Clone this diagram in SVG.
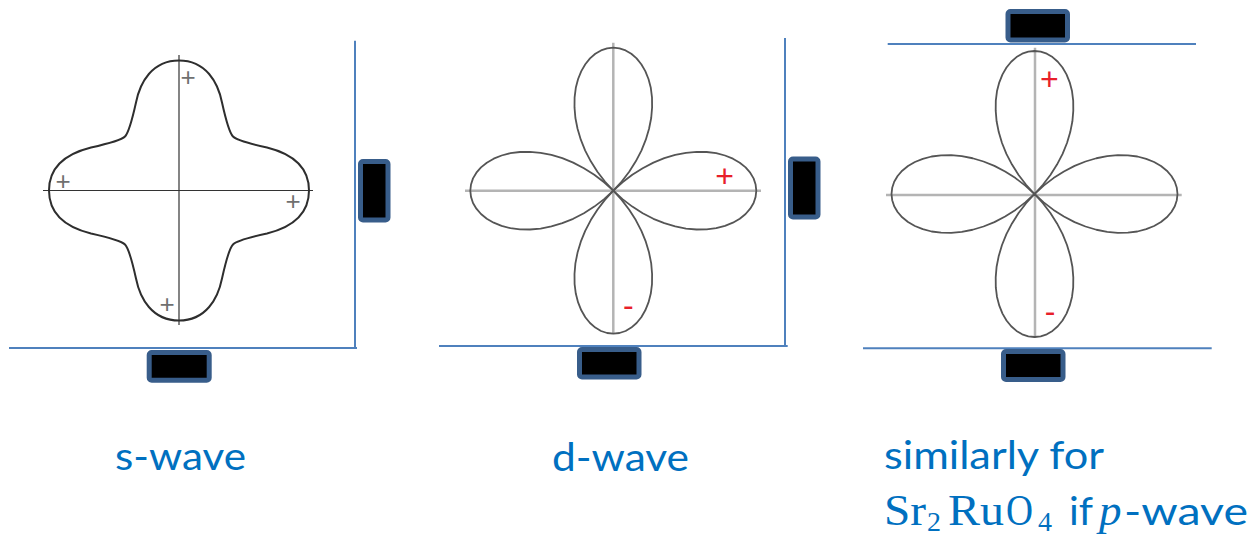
<svg xmlns="http://www.w3.org/2000/svg" width="1251" height="535" viewBox="0 0 1251 535">
<style>
.wall{stroke:#4f81bd;stroke-width:2;fill:none}
.box{fill:#000;stroke:#385d8a;stroke-width:5}
.axisS{stroke:#333;stroke-width:1.2}
.axisD{stroke:#b4b4b4;stroke-width:2.5}
.curve{fill:none;stroke:#2e2e2e;stroke-width:2;stroke-linejoin:round}
.lobe{fill:none;stroke:#555;stroke-width:1.8;stroke-linejoin:round}
.gp{font-family:"Liberation Sans",Arial,sans-serif;font-size:26px;fill:#707070;text-anchor:middle}
.rp{font-family:"Liberation Sans",Arial,sans-serif;font-size:32px;fill:#e8202a;text-anchor:middle}
.lbl{font-family:Lato,"Open Sans",sans-serif;font-size:39px;fill:#0070c0}
.math{font-family:"Liberation Serif","Times New Roman",serif;font-size:45px;fill:#0070c0}
.sub{font-size:28px}
</style>
<defs>
<path id="lobe" d="M0,0 L9.2,8.4 19,15.9 29.4,22.5 40.1,28.1 51,32.5 61.9,35.75 72.7,37.9 83.3,38.8 93.4,38.7 102.9,37.5 111.7,35.2 119.6,32 126.5,28 132.3,23.3 136.9,18 140.3,12.3 142.3,6.2 143,0 142.3,-6.2 140.3,-12.3 136.9,-18 132.3,-23.3 126.5,-28 119.6,-32 111.7,-35.2 102.9,-37.5 93.4,-38.7 83.3,-38.8 72.7,-37.9 61.9,-35.75 51,-32.5 40.1,-28.1 29.4,-22.5 19,-15.9 9.2,-8.4 Z"/>
</defs>

<g id="s-wave">
<line class="axisS" x1="179" y1="55" x2="179" y2="325"/>
<line class="axisS" x1="43" y1="190.5" x2="313" y2="190.5"/>
<path class="curve" transform="translate(179,190.5)" d="M0,-130 C27,-130 39,-108 43,-88 C47,-70 50,-58 54,-54 C58,-50 70,-47 88,-43 C108,-38 130,-27 130,0 C130,27 108,38 88,43 C70,47 58,50 54,54 C50,58 47,70 43,88 C39,108 27,130 0,130 C-27,130 -39,108 -43,88 C-47,70 -50,58 -54,54 C-58,50 -70,47 -88,43 C-108,38 -130,27 -130,0 C-130,-27 -108,-38 -88,-43 C-70,-47 -58,-50 -54,-54 C-50,-58 -47,-70 -43,-88 C-39,-108 -27,-130 0,-130 Z"/>
<text class="gp" x="188" y="86">+</text>
<text class="gp" x="63" y="190">+</text>
<text class="gp" x="293" y="210">+</text>
<text class="gp" x="167" y="313">+</text>
<line class="wall" x1="355" y1="40.7" x2="355" y2="348"/>
<line class="wall" x1="9" y1="348" x2="357" y2="348"/>
<rect class="box" x="360.5" y="161.5" width="27.5" height="58.5" rx="2.5"/>
<rect class="box" x="149.2" y="352.5" width="60" height="27.7" rx="2.5"/>
<text class="lbl" x="115" y="470" textLength="131" lengthAdjust="spacingAndGlyphs">s-wave</text>
</g>

<g id="d-wave">
<line class="axisD" x1="613.3" y1="42.7" x2="613.3" y2="333"/>
<line class="axisD" x1="465" y1="190.7" x2="761" y2="190.7"/>
<use href="#lobe" class="lobe" transform="translate(613.3,190.7)"/>
<use href="#lobe" class="lobe" transform="translate(613.3,190.7) rotate(90)"/>
<use href="#lobe" class="lobe" transform="translate(613.3,190.7) rotate(180)"/>
<use href="#lobe" class="lobe" transform="translate(613.3,190.7) rotate(270)"/>
<text class="rp" x="724.7" y="187">+</text>
<text class="rp" x="628.3" y="316">-</text>
<line class="wall" x1="785" y1="38" x2="785" y2="346"/>
<line class="wall" x1="439" y1="346" x2="787.7" y2="346"/>
<rect class="box" x="790.5" y="159" width="27.5" height="58" rx="2.5"/>
<rect class="box" x="579.5" y="349.5" width="59.5" height="27.5" rx="2.5"/>
<text class="lbl" x="552" y="471" textLength="137" lengthAdjust="spacingAndGlyphs">d-wave</text>
</g>

<g id="p-wave">
<line class="axisD" x1="1035" y1="47.7" x2="1035" y2="338"/>
<line class="axisD" x1="886" y1="195" x2="1181.7" y2="195"/>
<use href="#lobe" class="lobe" transform="translate(1034.5,194)"/>
<use href="#lobe" class="lobe" transform="translate(1034.5,194) rotate(90)"/>
<use href="#lobe" class="lobe" transform="translate(1034.5,194) rotate(180)"/>
<use href="#lobe" class="lobe" transform="translate(1034.5,194) rotate(270)"/>
<text class="rp" x="1049.3" y="89.5">+</text>
<text class="rp" x="1050" y="321.5">-</text>
<line class="wall" x1="887.7" y1="44" x2="1196" y2="44"/>
<line class="wall" x1="863" y1="348.3" x2="1211.7" y2="348.3"/>
<rect class="box" x="1008" y="11.5" width="59.5" height="28.5" rx="2.5"/>
<rect class="box" x="1003.5" y="351.5" width="59.5" height="28" rx="2.5"/>
<text class="lbl" x="884" y="469" textLength="220" lengthAdjust="spacingAndGlyphs">similarly for</text>
<text class="math" y="525"><tspan x="884" textLength="42" lengthAdjust="spacingAndGlyphs">Sr</tspan><tspan class="sub" x="927" y="531">2</tspan><tspan x="948" y="525" textLength="56" lengthAdjust="spacingAndGlyphs">Ru</tspan><tspan x="1006" textLength="27" lengthAdjust="spacingAndGlyphs">O</tspan><tspan class="sub" x="1038" y="531">4</tspan><tspan x="1069" y="525" class="lbl" textLength="24" lengthAdjust="spacingAndGlyphs">if</tspan><tspan x="1099" font-style="italic">p</tspan><tspan x="1124" class="lbl" textLength="124" lengthAdjust="spacingAndGlyphs">-wave</tspan></text>
</g>
</svg>
